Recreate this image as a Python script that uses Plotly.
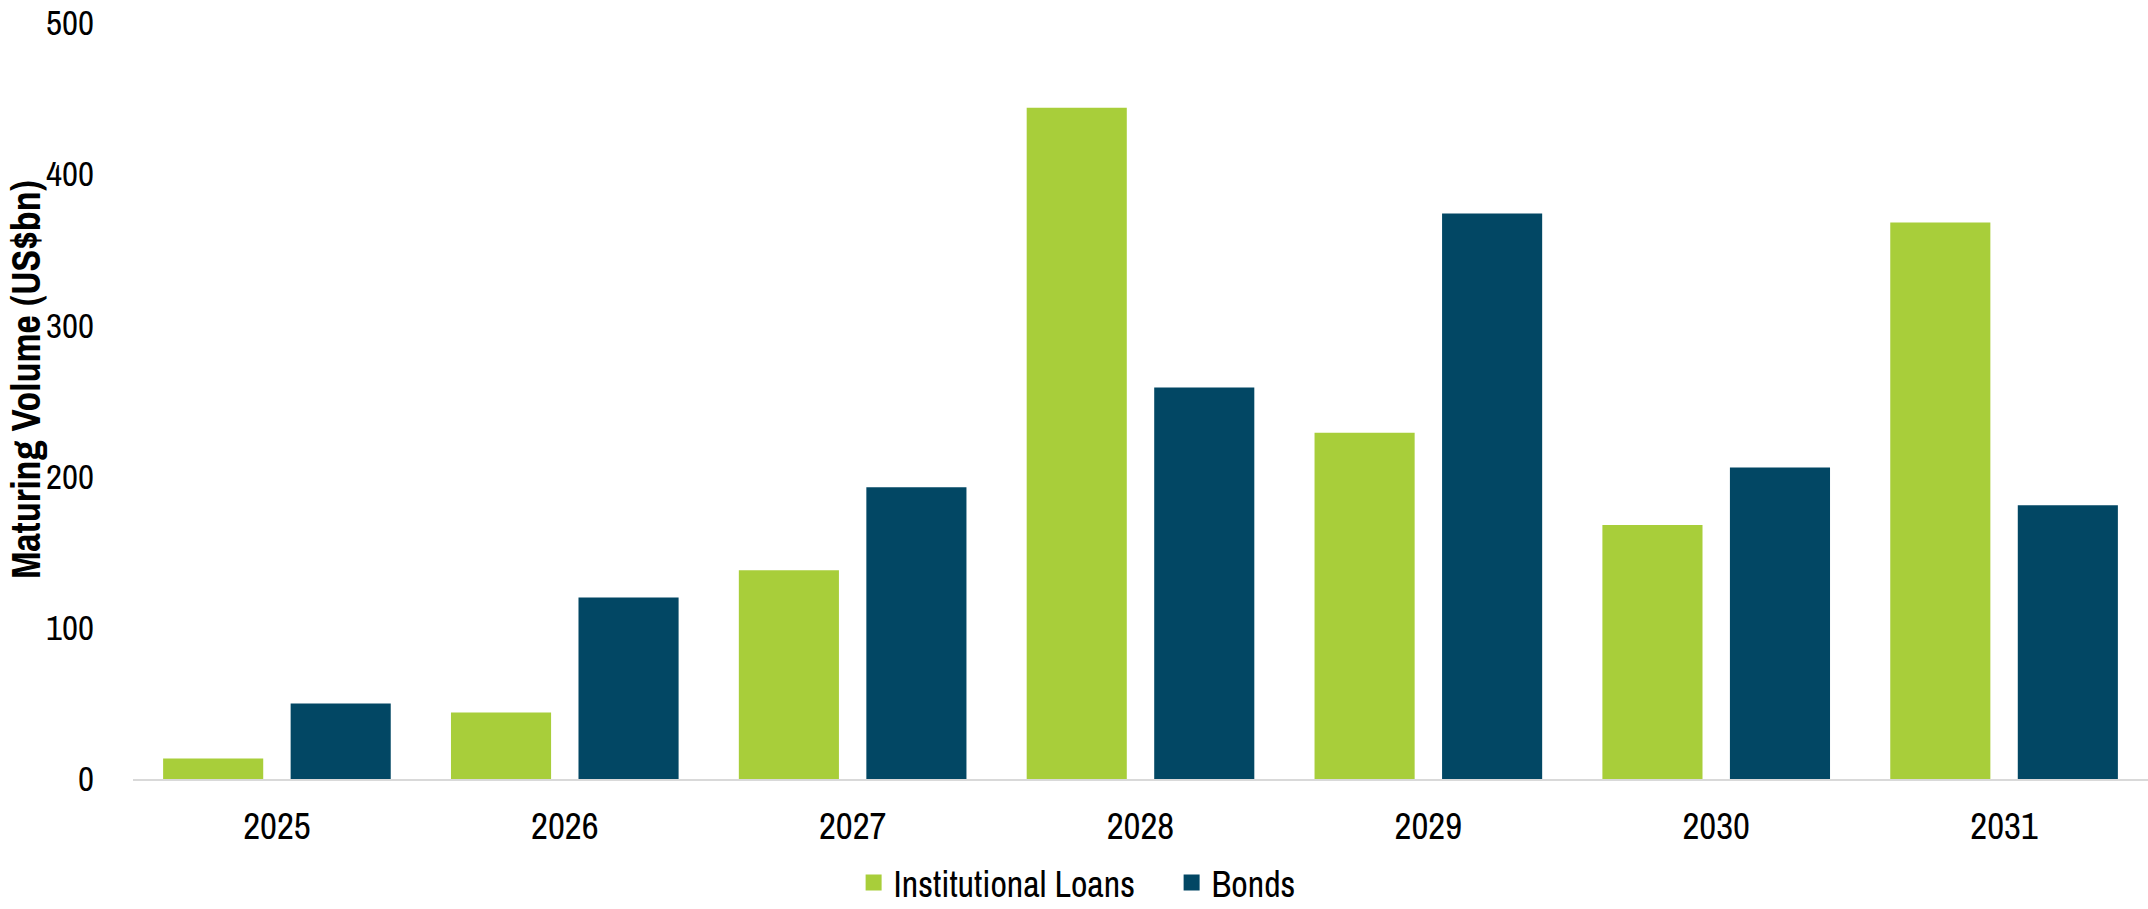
import plotly.graph_objects as go

years = ["2025", "2026", "2027", "2028", "2029", "2030", "2031"]
institutional_loans = [13.5, 44, 138, 444, 229, 168, 368]
bonds = [50, 120, 193, 259, 374, 206, 181]
y_ticks = [0, 100, 200, 300, 400, 500]

GREEN = "#A8CE3A"
BLUE = "#024764"
NARROW = "Archivo Narrow, Liberation Sans Narrow, Arial Narrow, DejaVu Sans Condensed, sans-serif"
CLEAR = "rgba(0,0,0,0)"

fig = go.Figure()
fig.add_trace(go.Bar(x=years, y=institutional_loans, name="Institutional Loans",
                     marker=dict(color=GREEN, line=dict(width=0)), showlegend=False))
fig.add_trace(go.Bar(x=years, y=bonds, name="Bonds",
                     marker=dict(color=BLUE, line=dict(width=0)), showlegend=False))
# legend swatches
fig.add_trace(go.Scatter(x=[None], y=[None], mode="markers", name="Institutional Loans",
                         marker=dict(symbol="square", size=16, color=GREEN)))
fig.add_trace(go.Scatter(x=[None], y=[None], mode="markers", name="Bonds",
                         marker=dict(symbol="square", size=16, color=BLUE)))

fig.add_annotation(text="<b>Maturing Volume (US$bn)</b>", textangle=-90,
                   xref="paper", yref="paper", x=0, y=0.528, xshift=-107,
                   xanchor="center", yanchor="middle", showarrow=False,
                   font=dict(family=NARROW, size=40, color="black"))

fig.update_layout(
    width=2148, height=909,
    margin=dict(l=133, r=0, t=23, b=130, autoexpand=False),
    paper_bgcolor="white", plot_bgcolor="white",
    barmode="group", bargap=0.114, bargroupgap=0.215,
    font=dict(family=NARROW, size=36, color="black"),
    showlegend=True,
    legend=dict(orientation="h", xref="container", yref="container",
                x=0.3974, xanchor="left", y=0.029, yanchor="middle",
                font=dict(family=NARROW, size=36, color="black"),
                itemsizing="trace", entrywidthmode="pixels", entrywidth=273,
                bgcolor=CLEAR, borderwidth=0),
    xaxis=dict(type="category", showgrid=False, showline=True, linecolor="#D9D9D9",
               linewidth=2, ticks="outside", ticklen=14, tickcolor=CLEAR, automargin=False,
               tickfont=dict(family=NARROW, size=37, color="black")),
    yaxis=dict(range=[0, 500], tickvals=y_ticks, showgrid=False, zeroline=False,
               showline=False, ticks="outside", ticklen=31, tickcolor=CLEAR,
               automargin=False, ticklabeloverflow="allow",
               tickfont=dict(family=NARROW, size=35, color="black")),
)

fig.write_html("out.html")
